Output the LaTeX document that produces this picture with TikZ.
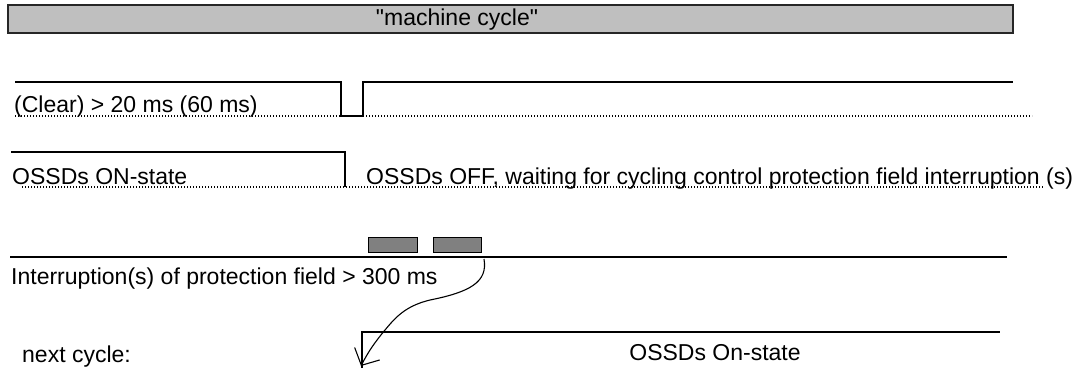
\documentclass[tikz,border=0pt]{standalone}
\usepackage{fontspec}
\setmainfont{Liberation Sans}
\newfontfamily\quotefont{Liberation Sans}
\usetikzlibrary{arrows.meta, positioning}

\begin{document}
\begin{tikzpicture}[
    x=1pt, y=-1pt,
    txt/.style={inner sep=0pt, anchor=base west, font=\fontsize{23}{26}\selectfont},
    sig/.style={line width=1.5pt, line join=miter},
    lowlvl/.style={line width=1.3pt, dash pattern=on 1.4pt off 1.6pt},
    bar/.style={draw=black!85, line width=1.6pt, fill=black!25},
    blk/.style={draw=black, line width=1pt, fill=black!50},
    arrow/.style={-{Straight Barb[length=13pt, width=28pt, line width=1.1pt]}, line width=1.1pt}
]
    \useasboundingbox (0,0) rectangle (1083,368);

    % machine cycle bar
    \draw[bar] (8,5) rectangle (1013,33);
    \node[txt, anchor=center, font=\fontsize{23}{26}\quotefont] (cycle) at (457,20) {"machine cycle"};

    % clear signal
    \draw[lowlvl] (15,116) -- (1032,116);
    \draw[sig] (15,82) -- (341,82) -- (341,116) -- (363,116) -- (363,82) -- (1013,82);
    \node[txt] (clear) at (14,112) {(Clear) > 20 ms (60 ms)};

    % OSSD state
    \draw[lowlvl] (22,187) -- (1043,187);
    \draw[sig] (11,152) -- (345,152) -- (345,187);
    \node[txt] (osson) at (12,184) {OSSDs ON-state};
    \node[txt] (ossoff) at (366,184) {OSSDs OFF,  waiting for cycling control protection field interruption (s)};

    % interruptions of protection field
    \draw[sig] (10,257) -- (1007,257);
    \node[blk, minimum width=49pt, minimum height=15pt, inner sep=0pt] (intA) at (392.5,244.5) {};
    \node[blk, minimum width=48pt, minimum height=15pt, inner sep=0pt, right=15pt of intA] (intB) {};
    \node[txt] (intr) at (11,284) {Interruption(s)  of protection field > 300 ms};

    % next cycle
    \draw[sig] (362,368) -- (362,332) -- (1000,332);
    \node[txt] (next) at (22,362) {next  cycle:};
    \node[txt, anchor=base] (nexton) at (715,360) {OSSDs On-state};

    % arrow to next cycle
    \coordinate (tail) at (484,259);
    \coordinate (tip) at (361,366);
    \draw[arrow] (tail) .. controls (488,282) and (470,292) .. (430,300)
        .. controls (405,306) and (395,318) .. (385,330)
        .. controls (375,342) and (368,352) .. (tip);
\end{tikzpicture}
\end{document}
